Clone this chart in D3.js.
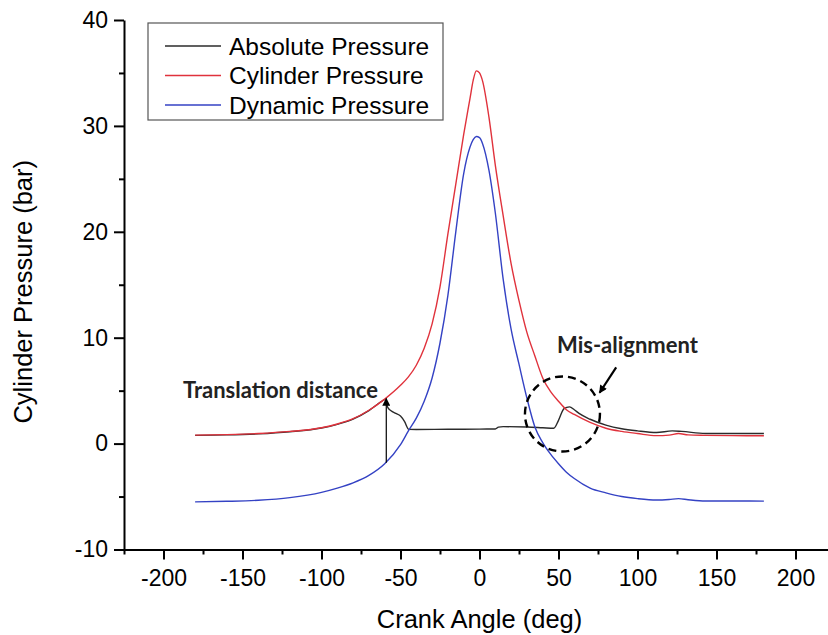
<!DOCTYPE html>
<html>
<head>
<meta charset="utf-8">
<script src="https://cdn.jsdelivr.net/npm/d3@7"></script>
<style>
  body { margin: 0; background: #fff; }
  svg { display: block; }
</style>
</head>
<body>
<div id="chart"></div>
<script>
// crank angles (deg) shared by cylinder + dynamic pressure
const angles = [-180, -160, -140, -120, -100, -90, -80, -70, -60, -50,
  -45, -40, -35, -30, -25, -20, -15, -10, -6, -4, -2, 0,
  2, 6, 10, 15, 20, 25, 30, 35, 40, 45,
  50, 55, 60, 70, 80, 90, 100, 112, 120, 126,
  132, 143, 160, 180];

const cylinderPressure = [0.8, 0.85, 0.95, 1.15, 1.5, 1.85, 2.35, 3.15, 4.2, 5.5,
  6.3, 7.4, 9.0, 11.3, 14.8, 19.8, 24.5, 29.2, 32.6, 34.3, 35.2, 35.0,
  34.2, 30.8, 26.3, 21.5, 17.0, 13.5, 10.5, 8.3, 6.2, 4.9,
  4.0, 3.2, 2.75, 2.0, 1.45, 1.15, 0.95, 0.75, 0.8, 0.95,
  0.82, 0.78, 0.75, 0.74];

const dynamicPressure = [-5.5, -5.45, -5.35, -5.1, -4.6, -4.2, -3.7, -3.0, -1.9, -0.1,
  1.2, 2.4, 4.0, 6.2, 9.5, 14.0, 20.0, 25.5, 28.0, 28.7, 29.0, 28.9,
  28.3, 25.8, 21.8, 15.5, 10.8, 7.5, 4.3, 1.6, 0.1, -1.0,
  -1.9, -2.7, -3.3, -4.2, -4.65, -5.0, -5.2, -5.33, -5.28, -5.2,
  -5.3, -5.42, -5.42, -5.43];

// absolute pressure has its own (denser) sampling
const absAngles = [-180, -160, -140, -120, -100, -90, -80, -70, -62, -60,
  -58, -56, -53, -50, -47.5, -44.7, -40, -20, 0, 10,
  12, 15, 30, 40, 47, 50, 53.5, 57, 60, 63,
  70, 80, 90, 100, 112, 122, 128, 143, 160, 180];
const absolutePressure = [0.78, 0.82, 0.92, 1.12, 1.47, 1.82, 2.32, 3.12, 3.98, 4.15,
  3.4, 3.1, 2.85, 2.6, 2.1, 1.34, 1.33, 1.35, 1.37, 1.38,
  1.55, 1.6, 1.57, 1.5, 1.45, 2.2, 3.3, 3.47, 3.2, 2.85,
  2.3, 1.75, 1.4, 1.2, 1.05, 1.2, 1.15, 0.96, 0.95, 0.95];

const xTicks = [-200, -150, -100, -50, 0, 50, 100, 150, 200];
const xMinorTicks = [-225, -175, -125, -75, -25, 25, 75, 125, 175, 225];
const yTicks = [-10, 0, 10, 20, 30, 40];
const yMinorTicks = [-5, 5, 15, 25, 35];

const seriesNames = ["Absolute Pressure", "Cylinder Pressure", "Dynamic Pressure"];
const seriesColors = ["#2b2b2b", "#e0323c", "#3442c4"];

const width = 828;
const height = 635;
const margin = { top: 20, right: -7, bottom: 85.5, left: 124 };

const x = d3.scaleLinear()
    .domain([-225, 225])
    .range([margin.left, width - margin.right]);

const y = d3.scaleLinear()
    .domain([-10, 40])
    .range([height - margin.bottom, margin.top]);

const svg = d3.select("#chart")
  .append("svg")
    .attr("width", width)
    .attr("height", height)
    .attr("viewBox", [0, 0, width, height])
    .style("font-family", "'Liberation Sans', Arial, sans-serif");

// plain hyphen for negatives, like the original
const fmt = d => String(d);

// axes
svg.append("g")
    .attr("transform", `translate(0,${y(-10)})`)
    .call(d3.axisBottom(x).tickValues(xTicks).tickSize(10).tickSizeOuter(0).tickPadding(10).tickFormat(fmt));
svg.append("g")
    .attr("transform", `translate(0,${y(-10)})`)
    .call(d3.axisBottom(x).tickValues(xMinorTicks).tickSize(5).tickSizeOuter(0).tickFormat(""))
    .call(g => g.select(".domain").remove());

svg.append("g")
    .attr("transform", `translate(${x(-225)},0)`)
    .call(d3.axisLeft(y).tickValues(yTicks).tickSize(10).tickSizeOuter(0).tickPadding(6).tickFormat(fmt));
svg.append("g")
    .attr("transform", `translate(${x(-225)},0)`)
    .call(d3.axisLeft(y).tickValues(yMinorTicks).tickSize(5).tickSizeOuter(0).tickFormat(""))
    .call(g => g.select(".domain").remove());

svg.selectAll(".domain, .tick line")
    .attr("stroke", "#000")
    .attr("stroke-width", 2);
svg.selectAll(".tick text")
    .attr("fill", "#000")
    .style("font-size", "23px")
    .style("font-family", "'Liberation Sans', Arial, sans-serif");

// axis titles
svg.append("text")
    .attr("x", x(0))
    .attr("y", 628)
    .attr("text-anchor", "middle")
    .style("font-size", "25.5px")
    .text("Crank Angle (deg)");

svg.append("text")
    .attr("transform", `translate(32,${(y(40) + y(-10)) / 2 + 7}) rotate(-90)`)
    .attr("text-anchor", "middle")
    .style("font-size", "25.5px")
    .text("Cylinder Pressure (bar)");

// lines
const line = d3.line()
    .x(d => x(d[0]))
    .y(d => y(d[1]))
    .curve(d3.curveMonotoneX);

const absData = absAngles.map((a, i) => [a, absolutePressure[i]]);
const cylData = angles.map((a, i) => [a, cylinderPressure[i]]);
const dynData = angles.map((a, i) => [a, dynamicPressure[i]]);

[absData, cylData, dynData].forEach((data, i) => {
  svg.append("path")
      .datum(data)
      .attr("fill", "none")
      .attr("stroke", seriesColors[i])
      .attr("stroke-width", 1.4)
      .attr("d", line);
});

// legend
const legend = svg.append("g");
legend.append("rect")
    .attr("x", 148)
    .attr("y", 23)
    .attr("width", 295)
    .attr("height", 97)
    .attr("fill", "#fff")
    .attr("stroke", "#555")
    .attr("stroke-width", 1.2);

seriesNames.forEach((name, i) => {
  const ly = 46 + i * 29.5;
  legend.append("line")
      .attr("x1", 165)
      .attr("x2", 221)
      .attr("y1", ly)
      .attr("y2", ly)
      .attr("stroke", seriesColors[i])
      .attr("stroke-width", 1.3);
  legend.append("text")
      .attr("x", 229)
      .attr("y", ly)
      .attr("dy", "0.36em")
      .style("font-size", "24.5px")
      .text(name);
});

// annotations
const defs = svg.append("defs");
defs.append("marker")
    .attr("id", "head")
    .attr("viewBox", "0 0 10 10")
    .attr("refX", 9)
    .attr("refY", 5)
    .attr("markerWidth", 12)
    .attr("markerHeight", 8)
    .attr("markerUnits", "userSpaceOnUse")
    .attr("orient", "auto")
  .append("path")
    .attr("d", "M0,0L10,5L0,10z")
    .attr("fill", "#000");

// translation distance arrow: from dynamic up to cylinder curve at -59 deg
svg.append("line")
    .attr("x1", x(-59))
    .attr("x2", x(-59))
    .attr("y1", y(-1.8))
    .attr("y2", y(4.25))
    .attr("stroke", "#000")
    .attr("stroke-width", 1.2)
    .attr("marker-end", "url(#head)");

svg.append("text")
    .attr("x", 183)
    .attr("y", 398)
    .style("font-family", "Lato, sans-serif")
    .style("font-weight", "bold")
    .style("font-size", "22px")
    .attr("fill", "#222")
    .text("Translation distance");

svg.append("text")
    .attr("x", 557)
    .attr("y", 353)
    .style("font-family", "Lato, sans-serif")
    .style("font-weight", "bold")
    .style("font-size", "22px")
    .attr("fill", "#222")
    .text("Mis-alignment");

svg.append("line")
    .attr("x1", x(86.5))
    .attr("y1", y(7.2))
    .attr("x2", x(76))
    .attr("y2", y(4.8))
    .attr("stroke", "#000")
    .attr("stroke-width", 2.2)
    .attr("marker-end", "url(#head)");

// dashed circle round the misaligned peak
svg.append("circle")
    .attr("cx", x(52.5))
    .attr("cy", y(2.8))
    .attr("r", 37.5)
    .attr("fill", "none")
    .attr("stroke", "#000")
    .attr("stroke-width", 2.4)
    .attr("stroke-dasharray", "8,5");
</script>
</body>
</html>
